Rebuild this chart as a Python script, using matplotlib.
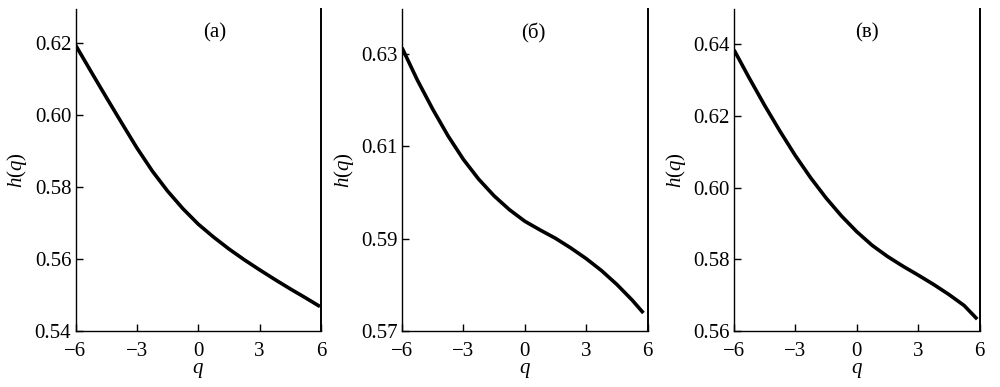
import matplotlib
matplotlib.use('Agg')
import matplotlib.pyplot as plt

plt.rcParams['font.family'] = ['Liberation Serif', 'DejaVu Serif']
plt.rcParams['mathtext.fontset'] = 'custom'
plt.rcParams['mathtext.it'] = 'Liberation Serif:italic'
plt.rcParams['mathtext.rm'] = 'Liberation Serif'

# values
qA = [-6, -5.25, -4.5, -3.75, -3, -2.25, -1.5, -0.75, 0, 0.75, 1.5, 2.25, 3, 3.75, 4.5, 5.25, 5.95]
hA = [0.6195, 0.6122, 0.6050, 0.5979, 0.5909, 0.5845, 0.5789, 0.5740, 0.5697,
      0.5661, 0.5628, 0.5598, 0.5570, 0.5543, 0.5517, 0.5492, 0.5468]

qB = [-6, -5.25, -4.5, -3.75, -3, -2.25, -1.5, -0.75, 0, 0.75, 1.5, 2.25, 3, 3.75, 4.5, 5.25, 5.8]
hB = [0.6314, 0.6244, 0.6181, 0.6123, 0.6072, 0.6029, 0.5993, 0.5963, 0.5938,
      0.5919, 0.5901, 0.5880, 0.5857, 0.5831, 0.5801, 0.5767, 0.5739]

qC = [-6, -5.25, -4.5, -3.75, -3, -2.25, -1.5, -0.75, 0, 0.75, 1.5, 2.25, 3, 3.75, 4.5, 5.25, 5.89]
hC = [0.6384, 0.6305, 0.6229, 0.6157, 0.6089, 0.6027, 0.5971, 0.5921, 0.5877,
      0.5839, 0.5808, 0.5781, 0.5756, 0.5730, 0.5702, 0.5671, 0.5633]

panelLabels = ['(а)', '(б)', '(в)']
yLimits = [(0.54, 0.6295), (0.57, 0.6398), (0.56, 0.6498)]
yTicks = [[0.54, 0.56, 0.58, 0.60, 0.62],
          [0.57, 0.59, 0.61, 0.63],
          [0.56, 0.58, 0.60, 0.62, 0.64]]
xTicks = [-6, -3, 0, 3, 6]

fig = plt.figure(figsize=(10, 3.87), dpi=100)

axLefts = [0.0755, 0.402, 0.734]
labelX = [0.567, 0.533, 0.54]
series = [(qA, hA), (qB, hB), (qC, hC)]

for i in range(3):
    ax = fig.add_axes([axLefts[i], 0.1447, 0.2455, 0.832])
    q, h = series[i]
    ax.plot(q, h, color='black', linewidth=2.6, solid_capstyle='butt',
            solid_joinstyle='round')
    ax.set_xlim(-6, 6)
    ax.set_ylim(*yLimits[i])
    ax.set_xticks(xTicks)
    ax.set_xticklabels(['\u22126', '\u22123', '0', '3', '6'])
    ax.set_yticks(yTicks[i])
    ax.set_yticklabels(['%.2f' % v for v in yTicks[i]])
    ax.spines['top'].set_visible(False)
    for s in ['left', 'bottom']:
        ax.spines[s].set_linewidth(1.0)
    ax.spines['right'].set_linewidth(1.4)
    ax.tick_params(direction='in', length=5, width=1, labelsize=15)
    ax.tick_params(axis='x', pad=8)
    ax.tick_params(axis='y', pad=3)
    ax.set_xlabel('$q$', fontsize=15, labelpad=0)
    ax.set_ylabel('$h(q)$', fontsize=15, labelpad=4)
    ax.text(labelX[i], 0.925, panelLabels[i], transform=ax.transAxes,
            ha='center', va='center', fontsize=15)

fig.savefig('out.png', dpi=100)
